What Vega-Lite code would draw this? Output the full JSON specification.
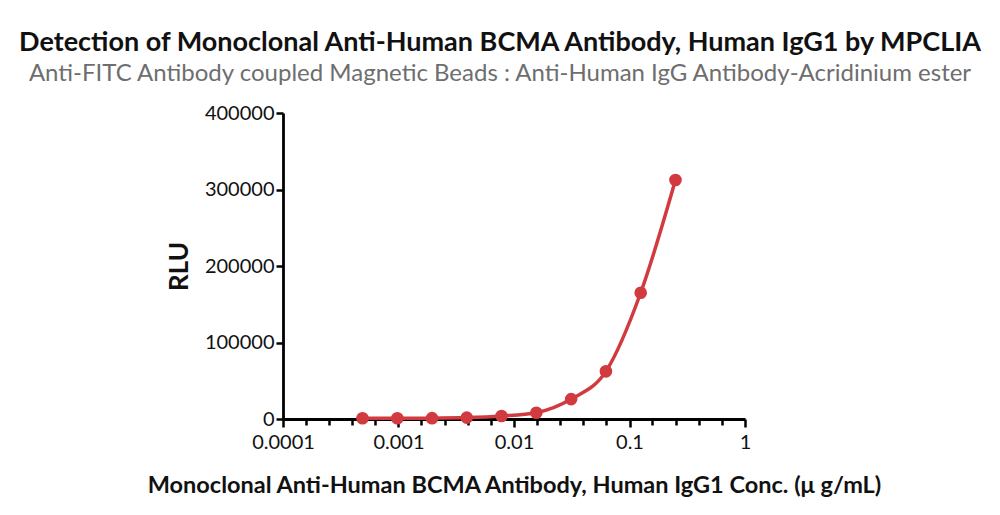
{
  "$schema": "https://vega.github.io/schema/vega-lite/v6.json",
  "autosize": "none",
  "padding": {"left": 283, "top": 113, "right": 255, "bottom": 96},
  "width": 462,
  "height": 306,
  "background": "white",
  "title": {
    "text": "Detection of Monoclonal Anti-Human BCMA Antibody, Human IgG1 by MPCLIA",
    "subtitle": "Anti-FITC Antibody coupled Magnetic Beads : Anti-Human IgG Antibody-Acridinium ester",
    "anchor": "middle",
    "frame": "group",
    "dx": -14,
    "offset": 16,
    "font": "Lato",
    "fontSize": 27,
    "fontWeight": "bold",
    "color": "#111111",
    "subtitleFont": "Lato",
    "subtitleFontSize": 24,
    "subtitleColor": "#6e6e6e",
    "subtitlePadding": 5
  },
  "config": {
    "view": {"stroke": null},
    "axis": {
      "grid": false,
      "domainColor": "#000000",
      "domainWidth": 2.8,
      "tickColor": "#000000",
      "tickWidth": 2.5,
      "labelFont": "Lato",
      "labelFontSize": 20,
      "labelColor": "#111111",
      "titleFont": "Lato",
      "titleFontWeight": "bold",
      "titleColor": "#111111"
    }
  },
  "data": {
    "values": [
      {"conc": 0.000488, "rlu": 1000},
      {"conc": 0.000977, "rlu": 1000},
      {"conc": 0.00195, "rlu": 1100},
      {"conc": 0.0039, "rlu": 1800},
      {"conc": 0.0078, "rlu": 3900},
      {"conc": 0.0156, "rlu": 8200},
      {"conc": 0.03125, "rlu": 26000},
      {"conc": 0.0625, "rlu": 62300},
      {"conc": 0.125, "rlu": 165000},
      {"conc": 0.25, "rlu": 312400}
    ]
  },
  "encoding": {
    "x": {
      "field": "conc",
      "type": "quantitative",
      "scale": {"type": "log", "domain": [0.0001, 1], "nice": false},
      "axis": {
        "title": "Monoclonal Anti-Human BCMA Antibody, Human IgG1 Conc. (μ g/mL)",
        "titleFontSize": 23.5,
        "titlePadding": 21,
        "values": [0.0001, 0.000158, 0.000251, 0.000398, 0.000631, 0.001, 0.00158, 0.00251, 0.00398, 0.00631, 0.01, 0.0158, 0.0251, 0.0398, 0.0631, 0.1, 0.158, 0.251, 0.398, 0.631, 1],
        "labelExpr": "indexof([0.0001,0.001,0.01,0.1,1], datum.value) >= 0 ? (datum.value == 1 ? '1' : format(datum.value, '.4~f')) : ''",
        "tickSize": {"condition": {"test": "indexof([0.0001,0.001,0.01,0.1,1], datum.value) >= 0", "value": 8}, "value": 6},
        "labelPadding": 5,
        "labelFlush": false,
        "labelOverlap": false
      }
    },
    "y": {
      "field": "rlu",
      "type": "quantitative",
      "scale": {"domain": [0, 400000], "nice": false},
      "axis": {
        "title": "RLU",
        "titleFontSize": 26,
        "titlePadding": 12,
        "values": [0, 100000, 200000, 300000, 400000],
        "format": "d",
        "tickSize": 7,
        "labelPadding": 2,
        "labelFlush": false
      }
    }
  },
  "layer": [
    {
      "mark": {"type": "line", "interpolate": "monotone", "color": "#d13a3f", "strokeWidth": 3.5}
    },
    {
      "mark": {"type": "point", "filled": true, "opacity": 1, "color": "#d13a3f", "size": 160}
    }
  ]
}
